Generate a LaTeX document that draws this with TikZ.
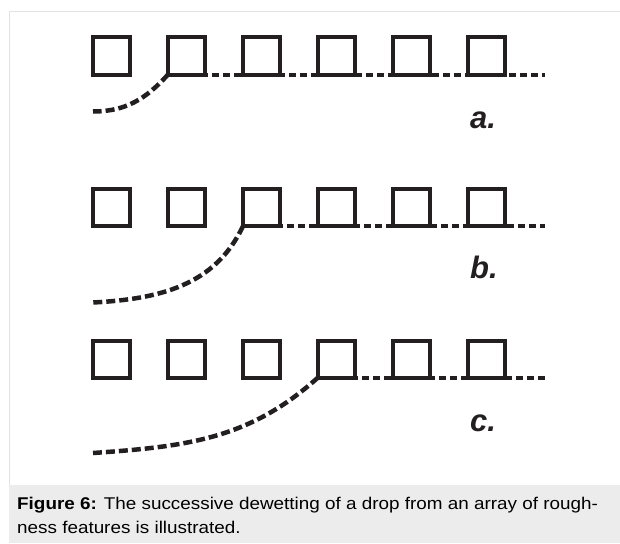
\documentclass[tikz,border=0pt]{standalone}
\usepackage{fontspec}
\setmainfont{Liberation Sans}
\newfontfamily\capfont[FakeStretch=1.11]{Liberation Sans}
\usepackage{xcolor}
\usetikzlibrary{positioning}
\definecolor{inkblack}{HTML}{231F20}
\definecolor{framegray}{HTML}{E2E2E2}
\definecolor{capgray}{HTML}{ECECEC}

\begin{document}
\begin{tikzpicture}[x=1pt, y=-1pt,
  pillar/.style={draw=inkblack, line width=4pt, minimum size=37pt, inner sep=0pt,
                 outer sep=0pt},
  wetline/.style={draw=inkblack, line width=4pt, dash pattern=on 7pt off 4pt},
  drop/.style={draw=inkblack, line width=4.5pt, dash pattern=on 9pt off 4pt},
  tag/.style={anchor=base west, inner sep=0pt, text=inkblack,
              font=\fontsize{31}{31}\selectfont\bfseries\itshape},
  capt/.style={anchor=base west, inner sep=0pt, align=left,
               font=\capfont\fontsize{17}{24}\selectfont},
]
  \useasboundingbox (0,0) rectangle (620,543);
  \fill[capgray] (9,485) rectangle (620,543);
  \draw[framegray, line width=1pt] (9,485) -- (9,11.5) -- (620,11.5);

  \node[pillar] (a1) at (111.5,56) {};
  \node[pillar, right=38pt of a1] (a2) {};
  \node[pillar, right=38pt of a2] (a3) {};
  \node[pillar, right=38pt of a3] (a4) {};
  \node[pillar, right=38pt of a4] (a5) {};
  \node[pillar, right=38pt of a5] (a6) {};

  \node[pillar, below=114.5pt of a1] (b1) {};
  \node[pillar, right=38pt of b1] (b2) {};
  \node[pillar, right=38pt of b2] (b3) {};
  \node[pillar, right=38pt of b3] (b4) {};
  \node[pillar, right=38pt of b4] (b5) {};
  \node[pillar, right=38pt of b5] (b6) {};

  \node[pillar, below=114.5pt of b1] (c1) {};
  \node[pillar, right=38pt of c1] (c2) {};
  \node[pillar, right=38pt of c2] (c3) {};
  \node[pillar, right=38pt of c3] (c4) {};
  \node[pillar, right=38pt of c4] (c5) {};
  \node[pillar, right=38pt of c5] (c6) {};

  \coordinate (rim) at (545,0);
  \coordinate (a-edge) at (93,111.5);
  \coordinate (b-edge) at (93,302.5);
  \coordinate (c-edge) at (93,453);

  \draw[wetline] (a2.south west) -- (a2.south west -| rim);
  \draw[wetline] (b3.south west) -- (b3.south west -| rim);
  \draw[wetline] (c4.south west) -- (c4.south west -| rim);

  \draw[drop] (a2.south west) to[out=228, in=0] (a-edge);
  \draw[drop] (b3.south west) to[out=245, in=3] (b-edge);
  \draw[drop] (c4.south west) to[out=222, in=4] (c-edge);

  \node[tag] (la) at (470,128) {a.};
  \node[tag] (lb) at (470,278.5) {b.};
  \node[tag] (lc) at (470,431.5) {c.};

  \node[capt] (cap) at (17,533) {\textbf{Figure 6:} The successive dewetting of a drop from an array of rough-\\ness features is illustrated.};
\end{tikzpicture}
\end{document}
